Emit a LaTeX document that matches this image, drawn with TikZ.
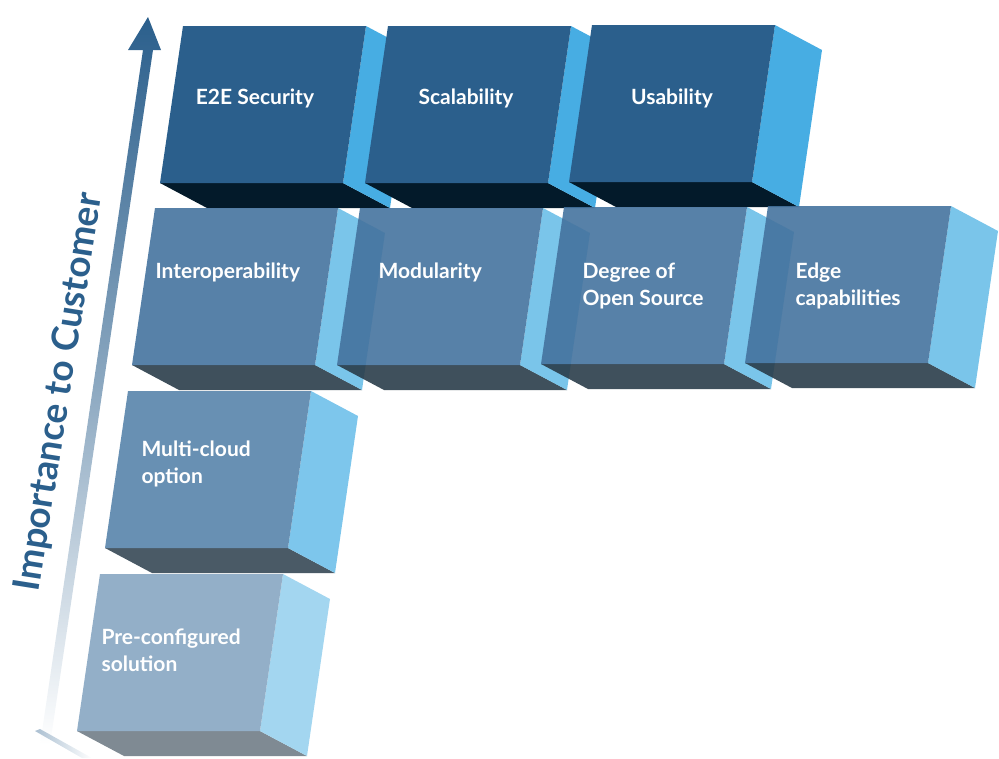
\documentclass[tikz,border=0pt]{standalone}
\usepackage{fontspec}
\setmainfont{Lato}
\usetikzlibrary{positioning,calc}
\definecolor{frontA}{HTML}{2B5F8C}
\definecolor{sideA}{HTML}{47ADE3}
\definecolor{baseA}{HTML}{031A2A}
\definecolor{frontB}{HTML}{45739E}
\definecolor{sideB}{HTML}{6BBFE8}
\definecolor{baseB}{HTML}{2A3D4A}
\definecolor{frontC}{HTML}{6890B3}
\definecolor{sideC}{HTML}{7DC6EC}
\definecolor{baseC}{HTML}{4A5A66}
\definecolor{frontD}{HTML}{93AFC8}
\definecolor{sideD}{HTML}{A3D6F0}
\definecolor{baseD}{HTML}{7F8A93}
\tikzset{
	label/.style={text=white, font=\bfseries\fontsize{21}{27}\selectfont, align=left},
	axislabel/.style={text=frontA, font=\bfseries\fontsize{37}{40}\selectfont},
	rowA/.style={},
	rowB/.style={fill opacity=.9}
}
% block: lower left corner x, y, colour suffix, row style
\newcommand{\block}[4]{
	\fill[base#3,#4] (#1,#2) -- ++(183,0) -- ++(47,25) -- ++(-183,0) -- cycle;
	\fill[side#3,#4] (#1+183,#2) -- ++(23,-157) -- ++(47,25) -- ++(-23,157) -- cycle;
	\fill[front#3,#4] (#1,#2) -- ++(183,0) -- ++(23,-157) -- ++(-183,0) -- cycle;
}
\begin{document}
\begin{tikzpicture}[x=1pt,y=-1pt]
	\useasboundingbox (0,0) rectangle (999,758);
	% axis arrow
	\shade[top color=frontA, bottom color=white, middle color=frontA!55]
		(40,745) -- (143,50) -- (128,50) -- (148,17) -- (161,50) -- (153,50) -- (50,745) -- cycle;
	\shade[left color=frontA!40, right color=white] (35,731) -- (40,729) -- (92,758) -- (82,758) -- cycle;
	\node[axislabel, rotate=81] (axis) at (60,392) {Importance to Customer};
	% top row
	\block{160}{183}{A}{rowA}
	\block{365}{183}{A}{rowA}
	\block{569}{182}{A}{rowA}
	% second row
	\block{132}{365}{B}{rowB}
	\block{337}{365}{B}{rowB}
	\block{541}{364}{B}{rowB}
	\block{745}{363}{B}{rowB}
	% lower rows
	\block{105}{548}{C}{rowA}
	\block{77}{731}{D}{rowA}
	% texts
	\node[label] (sec) at (255,98) {E2E Security};
	\node[label] (scal) at (466,98) {Scalability};
	\node[label] (usab) at (672,98) {Usability};
	\node[label, anchor=west] (inter) at (152,272) {Interoperability};
	\node[label, anchor=west] (modu) at (375,272) {Modularity};
	\node[label, anchor=west] (open) at (579,286) {Degree of\\Open Source};
	\node[label, anchor=west] (edge) at (792,286) {Edge\\capabilities};
	\node[label, anchor=west] (multi) at (138,464) {Multi-cloud\\option};
	\node[label, anchor=west] (pre) at (98,650) {Pre-configured\\solution};
\end{tikzpicture}
\end{document}
